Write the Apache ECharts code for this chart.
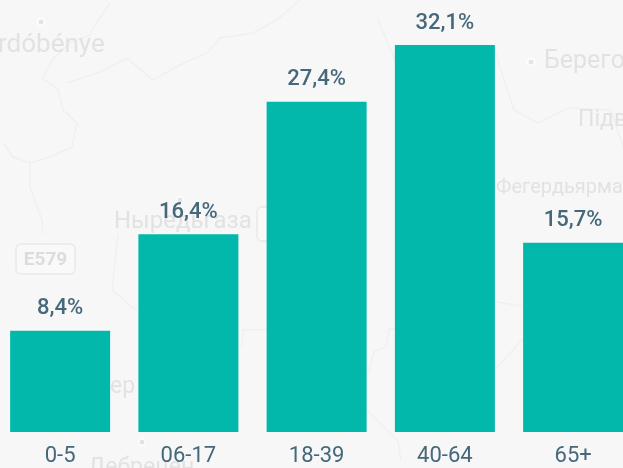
<!DOCTYPE html>
<html>
<head>
<meta charset="utf-8">
<style>html,body{margin:0;padding:0;background:#f7f7f7}#c{width:623px;height:468px}</style>
<script src="https://cdn.jsdelivr.net/npm/echarts@6/dist/echarts.min.js"></script>
</head>
<body>
<div id="c"></div>
<script>
const categories = ['0-5', '06-17', '18-39', '40-64', '65+'];
const shares = [8.4, 16.4, 27.4, 32.1, 15.7];
const fontFamily = 'Roboto';
const labelColor = '#45687A';
const barColor = '#01B8AA';

// Faint backdrop map: place names and roads
const mapTexts = [
  ['rdóbénye', -2, 45, 26], ['Берегo', 544, 62, 25], ['Підв', 578, 120, 23],
  ['Фегердьярмат', 496, 188, 20], ['Ныредьгаза', 114, 222, 24],
  ['ер', 110, 387, 23], ['Дебрецен', 88, 468, 23]
];
const mapLines = [
  [[110,3],[97,22],[90,35],[70,43],[52,60],[43,78],[58,90],[63,110],[77,123],[72,147],[50,157],[30,163],[13,157],[3,143]],
  [[67,83],[100,72],[127,58],[153,80],[180,65],[207,53],[220,38],[253,33],[277,20],[300,0]],
  [[30,163],[30,187],[42,220],[43,234]],
  [[378,20],[391,50],[400,75],[495,50],[501,70],[514,110],[538,123],[568,108],[611,110],[623,147]],
  [[496,368],[558,302],[623,288]],
  [[368,374],[374,351],[386,347],[389,329],[395,329]],
  [[496,302],[522,306]],
  [[368,411],[398,441],[401,461]],
  [[118,234],[112,290],[137,311]],
  [[242,347],[243,330],[267,330]]
];
const mapDots = [[41,22],[531,62],[142,442],[180,200]];

const graphic = [
  ...mapLines.map(points => ({
    type: 'polyline', silent: true, z: -10,
    shape: { points },
    style: { stroke: '#f0f0f0', lineWidth: 1.5, fill: null }
  })),
  ...mapTexts.map(([text, x, y, size]) => ({
    type: 'text', silent: true, z: -9, x, y,
    style: { text, fill: '#e2e2e2', font: size + 'px Roboto', textAlign: 'left', textVerticalAlign: 'middle' }
  })),
  ...mapDots.map(([cx, cy]) => ({
    type: 'circle', silent: true, z: -9,
    shape: { cx, cy, r: 3.5 },
    style: { fill: '#e4e4e4', stroke: '#fdfdfd', lineWidth: 2 }
  })),
  { type: 'rect', silent: true, z: -9,
    shape: { x: 16, y: 244, width: 59, height: 30, r: 5 },
    style: { fill: '#f9f9f9', stroke: '#ececec', lineWidth: 2 } },
  { type: 'text', silent: true, z: -8, x: 45.5, y: 260,
    style: { text: 'E579', fill: '#dcdcdc', font: 'bold 19px Roboto', textAlign: 'center', textVerticalAlign: 'middle' } },
  { type: 'rect', silent: true, z: -9,
    shape: { x: 257, y: 207, width: 30, height: 34, r: 5 },
    style: { fill: '#f9f9f9', stroke: '#ececec', lineWidth: 2 } }
];

const chart = echarts.init(document.getElementById('c'), null, { renderer: 'canvas' });
chart.setOption({
  animation: false,
  backgroundColor: '#f7f7f7',
  graphic,
  grid: { left: -4, top: 45, width: 641.25, height: 387, containLabel: false, outerBoundsMode: 'none' },
  xAxis: {
    type: 'category',
    data: categories,
    axisLine: { show: false },
    axisTick: { show: false },
    axisLabel: { color: labelColor, fontFamily, fontSize: 22, fontWeight: 400, margin: 13, interval: 0 }
  },
  yAxis: { type: 'value', min: 0, max: 32.1, show: false, splitLine: { show: false } },
  series: [{
    type: 'bar',
    z: 5,
    data: shares,
    barWidth: 100,
    itemStyle: { color: barColor },
    label: {
      show: true,
      position: 'top',
      distance: 11,
      color: labelColor,
      fontFamily,
      fontSize: 22,
      fontWeight: 500,
      formatter: p => p.value.toFixed(1).replace('.', ',') + '%'
    }
  }]
});
</script>
</body>
</html>
